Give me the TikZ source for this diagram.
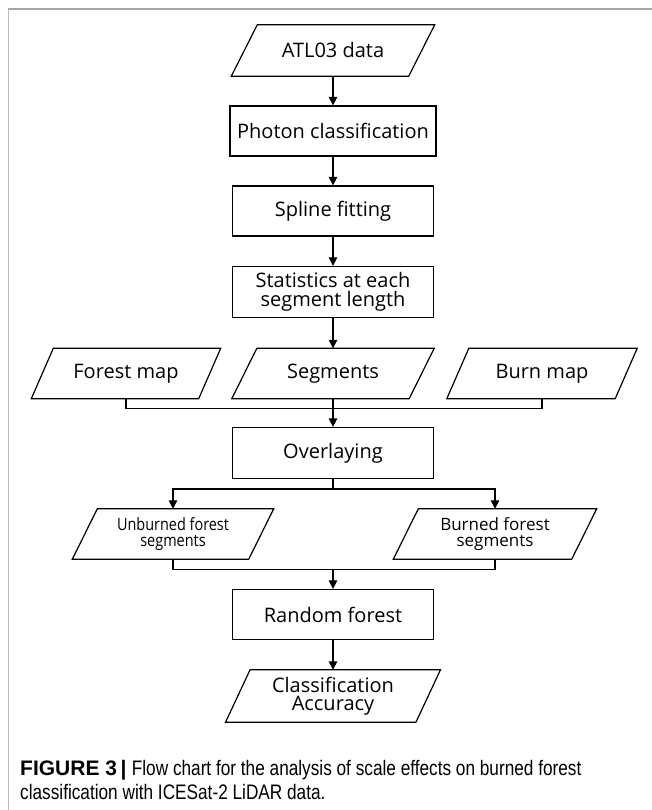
\documentclass[tikz,border=0pt]{standalone}
\usepackage{fontspec}
\setmainfont{Open Sans}
\newfontfamily\condfont[FakeStretch=0.85]{Open Sans}
\newfontfamily\capfont[FakeStretch=0.82]{Liberation Sans}
\newfontfamily\capbold{Liberation Sans}
\usetikzlibrary{arrows.meta}
\begin{document}
\begin{tikzpicture}[x=1pt,y=-1pt,
  proc/.style={draw, line width=1.2pt, inner sep=0pt, minimum height=50pt, align=center, font=\fontsize{20}{18.5}\selectfont},
  io/.style={inner sep=0pt, minimum height=50pt, align=center, font=\fontsize{20}{18.5}\selectfont},
  flow/.style={line width=1.2pt, -{Triangle[length=8.5pt,width=8.5pt]}},
  link/.style={line width=1.2pt},
  para/.style={line width=1.2pt, line join=miter},
  frame/.style={gray!70, line width=1.6pt},
  capt/.style={anchor=base west, inner sep=0pt, font=\fontsize{21}{27}\selectfont}]
\useasboundingbox (0,0) rectangle (652,810);
\draw[frame] (8,9) -- (652,9);
\draw[frame, line width=0.9pt, gray!55] (8,9) -- (8,810);

\node[io, minimum width=177pt, minimum height=51pt] (atl) at (333,50.5) {ATL03 data};
\node[proc, minimum width=206pt] (photon) at (333,131) {Photon classification};
\node[proc, minimum width=201pt] (spline) at (333,211) {Spline fitting};
\node[proc, minimum width=201pt, minimum height=51pt] (stats) at (333,292) {Statistics at each\\segment length};
\node[io, minimum width=167pt] (forest) at (126,373.5) {Forest map};
\node[io, minimum width=177pt] (segs) at (333,373.5) {Segments};
\node[io, minimum width=168pt] (burn) at (542,373.5) {Burn map};
\node[proc, minimum width=201pt, minimum height=51pt] (overlay) at (333,453) {Overlaying};
\node[io, minimum width=176pt, font=\fontsize{17}{15.5}\selectfont\condfont] (unb) at (173,534) {Unburned forest\\segments};
\node[io, minimum width=178pt, font=\fontsize{17}{15.5}\selectfont] (bur) at (495,534) {Burned forest\\segments};
\node[proc, minimum width=201pt] (rf) at (333,614.5) {Random forest};
\node[io, minimum width=190pt, minimum height=52pt] (ca) at (333,696) {Classification\\Accuracy};

\foreach \n/\s in {atl/13pt, forest/11pt, segs/12.5pt, burn/11pt, unb/12.5pt, bur/12.5pt, ca/12.25pt}
  \draw[para] ([xshift=\s]\n.north west) -- ([xshift=\s]\n.north east) -- ([xshift=-\s]\n.south east) -- ([xshift=-\s]\n.south west) -- cycle;

\draw[flow] (atl) -- (photon);
\draw[flow] (photon) -- (spline);
\draw[flow] (spline) -- (stats);
\draw[flow] (stats) -- (segs);
\coordinate (m1) at (333,408.5);
\draw[link] (forest.south) |- (m1) -| (burn.south);
\draw[flow] (segs) -- (overlay);
\coordinate (s1) at (333,489);
\draw[link] (overlay) -- (s1);
\draw[flow] (s1) -| (unb);
\draw[flow] (s1) -| (bur);
\coordinate (m2) at (333,569.5);
\draw[link] (unb.south) |- (m2) -| (bur.south);
\draw[flow] (m2) -- (rf);
\draw[flow] (rf) -- (ca);

\node[capt] (cap1) at (20,775) {{\capbold\bfseries FIGURE 3\,|} {\capfont Flow chart for the analysis of scale effects on burned forest}};
\node[capt] (cap2) at (20,799) {\capfont classification with ICESat-2 LiDAR data.};
\end{tikzpicture}
\end{document}
